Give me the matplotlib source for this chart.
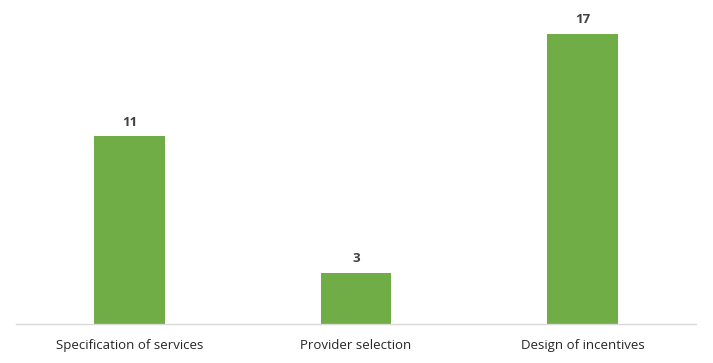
import matplotlib.pyplot as plt

# data
categories = ['Specification of services', 'Provider selection', 'Design of incentives']
counts = [11, 3, 17]

plt.rcParams['font.family'] = ['Open Sans', 'DejaVu Sans']

fig = plt.figure(figsize=(7.13, 3.63), dpi=100)
ax = fig.add_axes([16.25 / 713, 39 / 363, 679.5 / 713, 307 / 363])

bars = ax.bar(range(len(categories)), counts, width=0.313, color='#70AD47')

ax.set_xlim(-0.5, len(categories) - 0.5)
ax.set_ylim(0, 18)

for b, v in zip(bars, counts):
    ax.annotate(str(v), (b.get_x() + b.get_width() / 2, v), xytext=(0, 5.5),
                textcoords='offset points', ha='center', va='bottom',
                fontsize=9.5, fontweight='bold', color='#404040')

ax.set_xticks(range(len(categories)))
ax.set_xticklabels(categories, fontsize=9.5, color='#262626')
ax.tick_params(axis='x', length=0, pad=11)
ax.set_yticks([])

for s in ['top', 'right', 'left']:
    ax.spines[s].set_visible(False)
ax.spines['bottom'].set_color('#D9D9D9')
ax.spines['bottom'].set_linewidth(1)

fig.savefig('out.png', dpi=100)
